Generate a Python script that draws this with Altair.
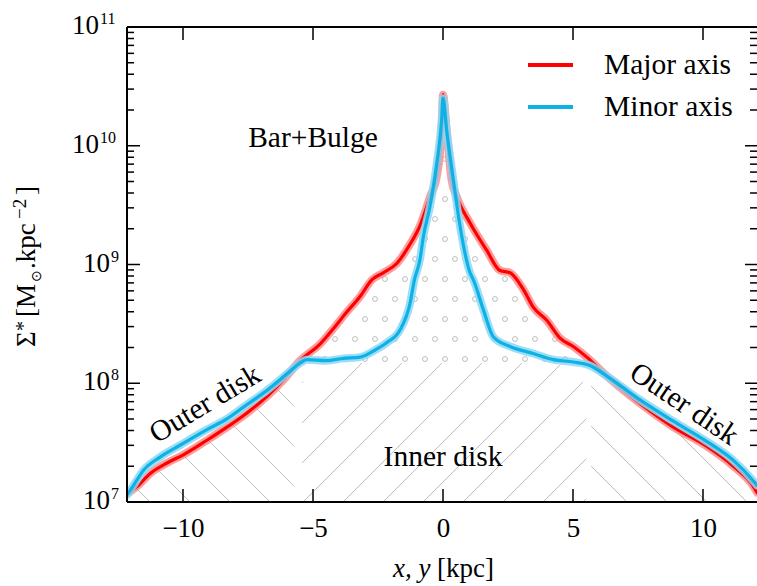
import altair as alt
import pandas as pd
import numpy as np

# ---------------- data ----------------
major_x = [-12.15, -11.77, -11.26, -10.6, -9.97, -9.08, -8.31, -7.54, -6.77, -6.13, -5.5, -4.73,
           -4.22, -3.7, -3.19, -2.74, -2.3, -1.78, -1.27, -0.88, -0.5, -0.24, -0.05, 0.0, 0.14,
           0.33, 0.53, 1.04, 1.68, 2.19, 2.58, 3.09, 3.47, 3.99, 4.5, 5.01, 5.53, 6.3, 7.58,
           8.86, 10.14, 11.17, 11.94, 12.08]
major_y = [1.17e7, 1.35e7, 1.74e7, 2.14e7, 2.51e7, 3.31e7, 4.27e7, 5.62e7, 7.76e7, 1.07e8, 1.55e8,
           2.14e8, 2.88e8, 3.98e8, 5.37e8, 7.41e8, 8.51e8, 1.02e9, 1.48e9, 2.14e9, 3.72e9, 5.50e9,
           1.35e10, 2.69e10, 1.35e10, 5.13e9, 3.72e9, 2.24e9, 1.32e9, 8.91e8, 8.51e8, 6.17e8,
           4.37e8, 3.39e8, 2.40e8, 2.04e8, 1.66e8, 1.15e8, 6.76e7, 4.27e7, 2.95e7, 2.00e7,
           1.35e7, 1.20e7]

minor_x = [-12.15, -11.96, -11.51, -10.87, -10.1, -9.08, -8.31, -7.54, -6.77, -6.0, -5.5, -5.23,
           -4.5, -3.82, -3.19, -2.6, -2.17, -1.65, -1.27, -1.1, -0.88, -0.76, -0.5, -0.24, -0.05,
           0.0, 0.14, 0.4, 0.65, 1.04, 1.17, 1.55, 1.94, 2.58, 3.47, 4.24, 5.01, 5.65, 6.3, 7.58,
           8.86, 10.14, 11.17, 12.0, 12.08]
minor_y = [1.15e7, 1.32e7, 1.86e7, 2.40e7, 3.02e7, 4.07e7, 5.01e7, 6.61e7, 8.71e7, 1.20e8, 1.48e8,
           1.58e8, 1.55e8, 1.62e8, 1.66e8, 1.91e8, 2.19e8, 2.82e8, 4.68e8, 7.41e8, 1.12e9, 1.70e9,
           3.09e9, 7.08e9, 1.66e10, 2.51e10, 1.35e10, 5.13e9, 2.14e9, 8.51e8, 7.41e8, 4.17e8,
           2.45e8, 2.04e8, 1.78e8, 1.58e8, 1.51e8, 1.41e8, 1.15e8, 7.24e7, 4.79e7, 3.24e7,
           2.24e7, 1.45e7, 1.38e7]

series_names = ["Major axis", "Minor axis"]
x_tick_values = [-10, -5, 0, 5, 10]
y_major_ticks = [1e7, 1e8, 1e9, 1e10, 1e11]
y_exponents = ["7", "8", "9", "10", "11"]
y_minor_ticks = [m * 10.0 ** e for e in range(7, 11) for m in range(2, 10)]

annotations = ["Bar+Bulge", "Inner disk", "Outer disk", "Outer disk"]
annot_x = [-5.0, 0.0, -9.15, 9.27]
annot_y = [1.16e10, 2.39e7, 6.68e7, 6.68e7]
annot_angle = [0, 0, 329, 34]

# ---------------- layout constants ----------------
W, H = 630, 475
XDOM = [-12.154, 12.077]
YDOM = [1e7, 1e11]
FONT = "Liberation Serif"
RED, RED_BAND = "#ff0000", "#ff8c8c"
BLUE, BLUE_BAND = "#0db1e6", "#8ad8f4"

xs = alt.Scale(domain=XDOM, nice=False, zero=False)
ys = alt.Scale(type="log", domain=YDOM, nice=False)
x_axis = alt.Axis(values=x_tick_values, ticks=False, tickSize=0, domain=False, grid=False,
                  labelFont=FONT, labelFontSize=27, labelColor="black", labelPadding=13,
                  labelFlush=False, title=None)

one = pd.DataFrame({"a": [0]})


def clog(xq, xs_, ys_):
    return np.interp(xq, xs_, np.log10(ys_))


def outer_top(xq):
    return np.minimum(clog(xq, major_x, major_y), clog(xq, minor_x, minor_y))


def inner_top(xq):
    return np.minimum.reduce([np.full_like(xq, 8.17), 8.0 + (5.45 - np.abs(xq)) * 0.17, outer_top(xq)])


# ---------------- hatch pattern (decoration geometry) ----------------
PXK, PXD = 26.0, 118.75


def hatch(direction, xb_list, xmin, xmax, topfn):
    segs = []
    xx = np.arange(xmin, xmax + 1e-9, 0.005)
    top = topfn(xx)
    for xb in xb_list:
        if direction == "back":
            L = 7 + PXK * (xb - xx) / PXD
        else:
            L = 7 + PXK * (xx - xb) / PXD
        inside = (L >= 7) & (L <= top)
        idx = np.where(inside)[0]
        if len(idx) < 2:
            continue
        splits = np.where(np.diff(idx) > 1)[0]
        starts = np.concatenate([[idx[0]], idx[splits + 1]])
        ends = np.concatenate([idx[splits], [idx[-1]]])
        for s, e in zip(starts, ends):
            if e - s < 2:
                continue
            segs.append(dict(x=xx[s], y=10 ** L[s], x2=xx[e], y2=10 ** L[e]))
    return segs


step = 40 / PXK
segs = []
segs += hatch("back", [-11.27 + step * k for k in range(-8, 8)], XDOM[0], -5.73, outer_top)
segs += hatch("fwd", [-5.385 + step * k for k in range(-8, 16)], -5.42, 5.52, inner_top)
segs += hatch("back", [7.077 + step * k for k in range(-6, 10)], 5.7, XDOM[1], outer_top)
hatch_df = pd.DataFrame(segs)

# ---------------- dot pattern ----------------
dots = []
for k in range(0, 13):
    L = 8.204 + (20 / PXD) * k
    off = 0.077 if k % 2 == 0 else 0.077 - 10 / PXK
    for j in range(-10, 11):
        xv = off + (20 / PXK) * j
        if L < clog(xv, major_x, major_y) - 0.05:
            dots.append(dict(x=xv, y=10 ** L))
dots_df = pd.DataFrame(dots)

# ---------------- layers ----------------
hatch_layer = alt.Chart(hatch_df).mark_rule(color="#b2b2b2", strokeWidth=0.85, clip=True).encode(
    x=alt.X("x:Q", scale=xs, axis=x_axis), y=alt.Y("y:Q", scale=ys, axis=None),
    x2="x2:Q", y2="y2:Q")

dots_layer = alt.Chart(dots_df).mark_point(shape="circle", filled=False, size=24, color="#8c8c8c",
                                           strokeWidth=0.8, clip=True).encode(
    x=alt.X("x:Q", scale=xs, axis=x_axis), y=alt.Y("y:Q", scale=ys, axis=None))

maj_df = pd.DataFrame({"x": major_x, "y": major_y, "s": series_names[0]})
min_df = pd.DataFrame({"x": minor_x, "y": minor_y, "s": series_names[1]})


def curve(df, color, width, opacity=1.0):
    return alt.Chart(df).mark_line(color=color, strokeWidth=width, opacity=opacity, clip=True,
                                   interpolate="monotone", strokeJoin="round", strokeCap="round").encode(
        x=alt.X("x:Q", scale=xs, axis=x_axis), y=alt.Y("y:Q", scale=ys, axis=None))


curves = [curve(maj_df, RED_BAND, 8, 0.85), curve(maj_df, RED, 3.2),
          curve(min_df, BLUE_BAND, 8, 0.85), curve(min_df, BLUE, 3.2)]

# ticks (inward, mirrored)
ymaj_df = pd.DataFrame({"y": y_major_ticks, "e": y_exponents})
ymin_df = pd.DataFrame({"y": y_minor_ticks})
xt_df = pd.DataFrame({"x": x_tick_values})
tick_style = dict(color="black", strokeWidth=1.5)
ticks = [
    alt.Chart(ymaj_df).mark_rule(**tick_style).encode(y=alt.Y("y:Q", scale=ys, axis=None), x=alt.value(0), x2=alt.value(13)),
    alt.Chart(ymin_df).mark_rule(**tick_style).encode(y=alt.Y("y:Q", scale=ys, axis=None), x=alt.value(0), x2=alt.value(7)),
    alt.Chart(ymaj_df).mark_rule(**tick_style).encode(y=alt.Y("y:Q", scale=ys, axis=None), x=alt.value(W - 12), x2=alt.value(W)),
    alt.Chart(ymin_df).mark_rule(**tick_style).encode(y=alt.Y("y:Q", scale=ys, axis=None), x=alt.value(W - 7), x2=alt.value(W)),
    alt.Chart(xt_df).mark_rule(**tick_style).encode(x=alt.X("x:Q", scale=xs, axis=x_axis), y=alt.value(0), y2=alt.value(13)),
    alt.Chart(xt_df).mark_rule(**tick_style).encode(x=alt.X("x:Q", scale=xs, axis=x_axis), y=alt.value(H), y2=alt.value(H - 13)),
]

spine = dict(color="black", strokeWidth=2)
spines = [
    alt.Chart(one).mark_rule(**spine).encode(x=alt.value(0), y=alt.value(0), y2=alt.value(H)),
    alt.Chart(one).mark_rule(**spine).encode(x=alt.value(0), x2=alt.value(W), y=alt.value(H)),
    alt.Chart(one).mark_rule(**spine).encode(x=alt.value(0), x2=alt.value(W), y=alt.value(0)),
]

# y tick labels: "10" + superscript exponent
ylab = []
for nd, xr in [(1, -17), (2, -28)]:
    sub = ymaj_df[ymaj_df["e"].str.len() == nd]
    ylab.append(alt.Chart(sub).mark_text(font=FONT, fontSize=27, align="right", baseline="alphabetic",
                                         dy=7, color="black").encode(
        y=alt.Y("y:Q", scale=ys, axis=None), x=alt.value(xr), text=alt.value("10")))
    ylab.append(alt.Chart(sub).mark_text(font=FONT, fontSize=16, align="left", baseline="alphabetic",
                                         dy=-3, color="black").encode(
        y=alt.Y("y:Q", scale=ys, axis=None), x=alt.value(xr + 1), text="e:N"))

# y title pieces (rotated)
ytitle_pieces = [("Σ", -92, 320, 27), ("*", -97, 304, 20), ("[M", -92, 290, 27), ("⊙", -86, 255, 14),
                 (".kpc", -92, 242, 27), ("−2", -101, 192, 19), ("]", -92, 168, 27)]
ytitle = [alt.Chart(one).mark_text(font=FONT, fontSize=s, angle=270, align="left", baseline="alphabetic",
                                   color="black").encode(x=alt.value(px), y=alt.value(py), text=alt.value(t))
          for t, px, py, s in ytitle_pieces]

# x title
xtitle = [
    alt.Chart(one).mark_text(font=FONT, fontSize=27, fontStyle="italic", align="left", baseline="alphabetic",
                             color="black").encode(x=alt.value(266), y=alt.value(550), text=alt.value("x, y")),
    alt.Chart(one).mark_text(font=FONT, fontSize=27, align="left", baseline="alphabetic",
                             color="black").encode(x=alt.value(310), y=alt.value(550), text=alt.value("[kpc]")),
]

# annotations
ann = []
for t, ax, ay, ang in zip(annotations, annot_x, annot_y, annot_angle):
    adf = pd.DataFrame({"x": [ax], "y": [ay], "t": [t]})
    ann.append(alt.Chart(adf).mark_text(font=FONT, fontSize=29.5, align="center", baseline="middle",
                                        angle=ang, color="black").encode(
        x=alt.X("x:Q", scale=xs, axis=x_axis), y=alt.Y("y:Q", scale=ys, axis=None), text="t:N"))

# legend
legend = []
for name, col, ly in [(series_names[0], RED, 38), (series_names[1], BLUE, 80)]:
    legend.append(alt.Chart(one).mark_rule(color=col, strokeWidth=4).encode(
        x=alt.value(401), x2=alt.value(446), y=alt.value(ly)))
    legend.append(alt.Chart(one).mark_text(font=FONT, fontSize=29.5, align="left", baseline="middle",
                                           color="black").encode(
        x=alt.value(477), y=alt.value(ly), text=alt.value(name)))

chart = alt.layer(hatch_layer, dots_layer, *curves, *ticks, *spines, *ylab, *ytitle, *xtitle, *ann,
                  *legend).properties(
    width=W, height=H, autosize=alt.AutoSizeParams(type="none"),
    padding={"left": 127, "top": 27, "right": 0, "bottom": 84},
    background="white"
).configure_view(stroke=None)

chart.save("out.html", embed_options={"renderer": "svg", "actions": False})
